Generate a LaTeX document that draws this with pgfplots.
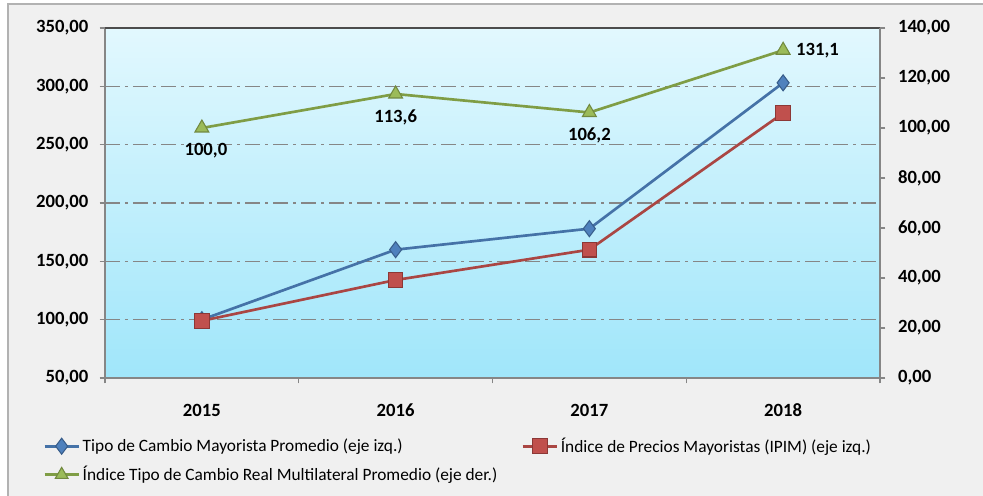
\documentclass[border=0pt]{standalone}
\usepackage{pgfplots}
\pgfplotsset{compat=1.18}
\usepackage{fontspec}
\setmainfont{Carlito}
\definecolor{bgout}{HTML}{F0F0F0}
\definecolor{plottop}{HTML}{E2F8FE}
\definecolor{plotbot}{HTML}{A0E6FA}
\definecolor{bline}{HTML}{4572A7}
\definecolor{bfill}{HTML}{4F81BD}
\definecolor{bdraw}{HTML}{385D8A}
\definecolor{rline}{HTML}{AA4643}
\definecolor{rfill}{HTML}{C0504D}
\definecolor{rdraw}{HTML}{8C3836}
\definecolor{gline}{HTML}{7F9D45}
\definecolor{gfill}{HTML}{9BBB59}
\definecolor{gdraw}{HTML}{71893F}
\definecolor{axgray}{HTML}{868686}
\pgfplotsset{
  common/.style={
    at={(78.75pt,88.5pt)}, anchor=south west,
    scale only axis, width=581.25pt, height=262.5pt,
    xmin=-0.5, xmax=3.5,
    tick align=outside,
    major tick length=4pt,
    tick style={axgray, line width=0.8pt},
    axis line style={draw=axgray, line width=1pt},
    /pgf/number format/assume math mode=true,
    tick label style={font=\fontsize{14}{16}\selectfont\bfseries},
    y tick label style={/pgf/number format/fixed, /pgf/number format/fixed zerofill, /pgf/number format/precision=2, /pgf/number format/use comma, /pgf/number format/1000 sep={}},
  },
  legend image code/.code={\draw[mark repeat=2,mark phase=2] plot coordinates {(0cm,0cm) (0.45cm,0cm) (0.9cm,0cm)};},
}
\begin{document}
\begin{tikzpicture}
\path[use as bounding box] (0,0) rectangle (737.25pt,372pt);
\filldraw[fill=bgout, draw=gray!60, line width=1.5pt] (6pt,-5pt) rectangle (745pt,369pt);
\begin{axis}[common,
  ymin=50, ymax=350,
  ytick={50,100,...,350},
  xtick={0,1,2,3}, xticklabels={2015,2016,2017,2018},
  minor xtick={-0.5,0.5,1.5,2.5,3.5},
  major x tick style={draw=none},
  minor tick length=4pt,
  xtick pos=bottom, ytick pos=left,
  x tick label style={yshift=-12pt},
  yticklabel shift=5pt,
  ymajorgrids,
  grid style={axgray, line width=0.9pt, dash pattern=on 11pt off 4pt on 2pt off 4pt},
  axis background/.style={shade, top color=plottop, bottom color=plotbot},
  legend columns=2,
  legend style={at={(-0.08,-0.163)}, anchor=north west, draw=none, fill=none, inner sep=0pt,
    font=\fontsize{13}{15}\selectfont, row sep=5pt,
    /tikz/every even column/.append style={column sep=16pt}},
  legend cell align=left,
]
\draw[draw=black!70, line width=1.2pt] (rel axis cs:0,1) -- (rel axis cs:1,1);
\addplot[bline, line width=2pt, mark=diamond*, mark size=6pt, mark options={fill=bfill, draw=bdraw, line width=0.8pt}]
  coordinates {(0,100) (1,160) (2,178) (3,303)};
\addlegendentry{Tipo de Cambio  Mayorista Promedio (eje izq.)}
\addplot[rline, line width=2pt, mark=square*, mark size=5.5pt, mark options={fill=rfill, draw=rdraw, line width=0.8pt}]
  coordinates {(0,99) (1,134) (2,160) (3,277)};
\addlegendentry{Índice de Precios Mayoristas  (IPIM)  (eje izq.)}
\addlegendimage{gline, line width=2pt, mark=triangle*, mark size=5.5pt, mark options={fill=gfill, draw=gdraw, line width=0.8pt}}
\addlegendentry{Índice Tipo de Cambio Real Multilateral Promedio (eje der.)}
\end{axis}
\begin{axis}[common,
  ymin=0, ymax=140,
  ytick={0,20,...,140},
  axis x line=none,
  axis y line*=right,
  yticklabel shift=6pt,
]
\addplot[gline, line width=2pt, mark=triangle*, mark size=6pt, mark options={fill=gfill, draw=gdraw, line width=0.8pt},
  nodes near coords, point meta=explicit symbolic,
  visualization depends on={value \thisrow{anc}\as\anc},
  visualization depends on={\thisrow{dx}\as\dx},
  visualization depends on={\thisrow{dy}\as\dy},
  every node near coord/.append style={anchor=\anc, xshift=\dx pt, yshift=\dy pt, text=black, font=\fontsize{14}{16}\selectfont\bfseries}]
  table[meta=lbl] {
x y lbl anc dx dy
0 100.0 100,0 north 3 -8
1 113.6 113,6 north 0 -8
2 106.2 106,2 north 0 -8
3 131.1 131,1 west 6 0
};
\end{axis}
\end{tikzpicture}
\end{document}
